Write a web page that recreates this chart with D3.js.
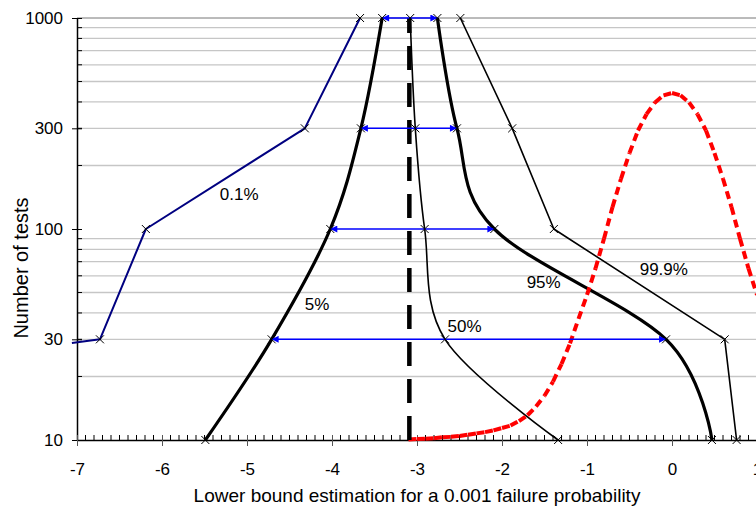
<!DOCTYPE html>
<html><head><meta charset="utf-8">
<script src="https://cdn.jsdelivr.net/npm/d3@7"></script>
<style>body{margin:0;background:#fff;} svg{display:block;font-family:"Liberation Sans",Arial,sans-serif;}</style>
</head><body><svg id="c" width="756" height="508"></svg>
<script>
// ---- data ----
const levels = [10, 30, 100, 300, 1000];              // number of tests
const p01X = [-7.06, -6.73, -6.19, -4.32, -3.67];      // 0.1% curve
const p01Y = [28.8, 30, 100, 300, 1000];
const p5X = [-5.49, -4.71, -4.02, -3.66, -3.41];       // 5%
const p50X = [-1.34, -2.67, -2.91, -3.02, -3.08];      // 50%
const p95X = [0.47, -0.07, -2.09, -2.53, -2.76];       // 95%
const p999X = [0.76, 0.62, -1.39, -1.88, -2.49];       // 99.9%
const zLine = -3.09;                                   // true 0.001 quantile
const arrowLevels = [30, 100, 300, 1000];
const redX = [-3.1,-3.0,-2.9,-2.8,-2.7,-2.6,-2.5,-2.4,-2.3,-2.2,-2.1,-2.0,-1.9,-1.8,-1.7,-1.6,-1.5,-1.4,-1.3,-1.2,-1.1,-1.0,-0.9,-0.8,-0.7,-0.6,-0.5,-0.4,-0.3,-0.2,-0.1,0,0.1,0.2,0.3,0.4,0.5,0.6,0.7,0.8,0.9,1.0];
const redY = [10.05,10.1,10.15,10.2,10.3,10.35,10.45,10.6,10.75,10.9,11.1,11.4,11.7,12.3,13.1,14.4,16.2,18.9,22.9,28.7,37.5,48.7,65,90,127,173,229,293,350,398,430,441,430,398,350,293,229,173,127,90,65,48.7];
const xTicks = [-7,-6,-5,-4,-3,-2,-1,0,1];
const yTicks = [10, 30, 100, 300, 1000];
const labelText = ["0.1%", "5%", "50%", "95%", "99.9%"];
const xTitle = "Lower bound estimation for a 0.001 failure probability";
const yTitle = "Number of tests";

// ---- chart ----
const svg = d3.select("#c");
const x = d3.scaleLinear().domain([-7, 1]).range([77, 757]);
const y = d3.scaleLog().domain([10, 1000]).range([440, 18]);

// gridlines
const gridVals = [];
[10, 100].forEach(d => { for (let m = 2; m <= 9; m++) gridVals.push(d * m); });
svg.append("g").selectAll("line").data(gridVals).join("line")
  .attr("x1", 77).attr("x2", 757).attr("y1", d => y(d)).attr("y2", d => y(d))
  .attr("stroke", "#c6c6c6").attr("stroke-width", 1.3);
svg.append("line").attr("x1", 77).attr("x2", 757).attr("y1", y(1000)).attr("y2", y(1000))
  .attr("stroke", "#777").attr("stroke-width", 1);

// y axis
const ya = svg.append("g").attr("transform", "translate(77,0)")
  .call(d3.axisLeft(y).tickValues(yTicks).tickFormat(d => d).tickSize(5).tickSizeOuter(0).tickPadding(9));
ya.select(".domain").attr("stroke", "#000").attr("stroke-width", 1.5);
ya.selectAll(".tick line").attr("x1", 5).attr("stroke", "#000");
ya.selectAll(".tick text").attr("font-size", 17).attr("fill", "#000").attr("font-family", "Liberation Sans, Arial, sans-serif");
svg.append("g").selectAll("line").data(gridVals).join("line")
  .attr("x1", 77).attr("x2", 82).attr("y1", d => y(d)).attr("y2", d => y(d)).attr("stroke", "#000");

// x axis
const xa = svg.append("g").attr("transform", "translate(0,440)")
  .call(d3.axisBottom(x).tickValues(xTicks).tickFormat(d => d).tickSize(6).tickSizeOuter(0).tickPadding(17));
xa.select(".domain").attr("stroke", "#000").attr("stroke-width", 1.5);
xa.selectAll(".tick line").attr("y1", -5).attr("stroke", "#555");
xa.selectAll(".tick text").attr("font-size", 17).attr("fill", "#000").attr("font-family", "Liberation Sans, Arial, sans-serif");
const minorX = d3.range(-70, 11).filter(v => v % 10 !== 0).map(v => v / 10);
svg.append("g").selectAll("line").data(minorX).join("line")
  .attr("x1", d => x(d)).attr("x2", d => x(d)).attr("y1", 440).attr("y2", 435).attr("stroke", "#000");

// titles
svg.append("text").attr("x", 417).attr("y", 502).attr("text-anchor", "middle")
  .attr("font-size", 19).text(xTitle);
svg.append("text").attr("transform", "translate(28,268) rotate(-90)").attr("text-anchor", "middle")
  .attr("font-size", 20).text(yTitle);

// curves
const lineLin = d3.line().x(d => x(d[0])).y(d => y(d[1]));
const lineSmooth = d3.line().x(d => x(d[0])).y(d => y(d[1])).curve(d3.curveCardinal.tension(0));
const series = [
  {pts: d3.zip(p01X, p01Y), gen: lineLin, color: "#000080", w: 2},
  {pts: d3.zip(p5X, levels), gen: lineSmooth, color: "#000", w: 3.2},
  {pts: d3.zip(p50X, levels), gen: lineSmooth, color: "#000", w: 1.6},
  {pts: d3.zip(p95X, levels), gen: lineSmooth, color: "#000", w: 3.2},
  {pts: d3.zip(p999X, levels), gen: lineLin, color: "#000", w: 1.6}
];
series.forEach(s => {
  svg.append("path").attr("d", s.gen(s.pts)).attr("fill", "none")
    .attr("stroke", s.color).attr("stroke-width", s.w).attr("stroke-linejoin", "round");
});

// red curve (dash restarted per segment)
const redPts = d3.zip(redX, redY);
const redG = svg.append("g");
for (let i = 0; i < redPts.length - 1; i++) {
  redG.append("path").attr("d", lineLin([redPts[i], redPts[i + 1]]))
    .attr("fill", "none").attr("stroke", "#ff0000").attr("stroke-width", 4)
    .attr("stroke-dasharray", "8,5");
}

// dashed vertical line
svg.append("path").attr("d", lineLin([[zLine, 10], [zLine, 1000]]))
  .attr("stroke", "#000").attr("stroke-width", 4.5).attr("stroke-dasharray", "24,13").attr("fill", "none");

// arrows
const defs = svg.append("defs");
defs.append("marker").attr("id", "ah").attr("viewBox", "0 0 10 10").attr("refX", 10).attr("refY", 5)
  .attr("markerWidth", 9).attr("markerHeight", 7).attr("markerUnits", "userSpaceOnUse")
  .attr("orient", "auto-start-reverse")
  .append("path").attr("d", "M0,0L10,5L0,10z").attr("fill", "#0000ff");
arrowLevels.forEach(l => {
  const i = levels.indexOf(l);
  svg.append("line").attr("x1", x(p5X[i])).attr("x2", x(p95X[i])).attr("y1", y(l)).attr("y2", y(l))
    .attr("stroke", "#0000ff").attr("stroke-width", 1.5)
    .attr("marker-start", "url(#ah)").attr("marker-end", "url(#ah)");
});

// markers
const markG = svg.append("g").attr("stroke", "#000").attr("stroke-width", 1);
series.forEach(s => {
  s.pts.filter(p => p[0] >= -7).forEach(p => {
    const cx = x(p[0]), cy = y(p[1]);
    markG.append("path").attr("d", `M${cx-4},${cy-4}L${cx+4},${cy+4}M${cx-4},${cy+4}L${cx+4},${cy-4}`);
  });
});

// curve labels (data coords)
const labelPos = [[-5.32, 137], [-4.32, 41.3], [-2.64, 32.5], [-1.71, 52.5], [-0.38, 60.5]];
labelText.forEach((t, i) => {
  svg.append("text").attr("x", x(labelPos[i][0])).attr("y", y(labelPos[i][1]))
    .attr("font-size", 17).attr("fill", "#000").text(t);
});
</script></body></html>
